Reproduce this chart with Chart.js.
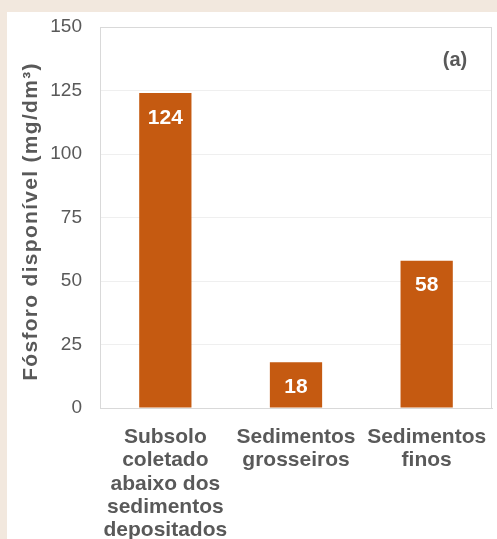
<!DOCTYPE html>
<html lang="pt">
<head>
<meta charset="utf-8">
<title>Fósforo disponível</title>
<script src="https://cdn.jsdelivr.net/npm/chart.js@4/dist/chart.umd.min.js"></script>
<style>
  html, body { margin: 0; padding: 0; width: 497px; height: 539px; overflow: hidden; background: #f2e8de; }
  #panel { position: absolute; left: 7px; top: 12px; width: 490px; height: 527px; background: #ffffff; }
  canvas { display: block; }
</style>
</head>
<body>
<div id="panel"><canvas id="chart" width="490" height="527"></canvas></div>
<script>
// Sample groups (multi-line category labels)
const categories = [
  ['Subsolo', 'coletado', 'abaixo dos', 'sedimentos', 'depositados'],
  ['Sedimentos', 'grosseiros'],
  ['Sedimentos', 'finos']
];
// Available phosphorus, mg/dm³
const phosphorus = [124, 18, 58];
// Y axis ticks
const yTickValues = [0, 25, 50, 75, 100, 125, 150];
const axisTitle = 'Fósforo disponível (mg/dm³)';
const panelTag = '(a)';

const FONT = '"Liberation Sans", Arial, Helvetica, sans-serif';
const TEXT_GREY = '#595959';
const BAR_COLOR = '#c55a11';
const GRID_COLOR = '#efefef';
const FRAME_COLOR = '#d9d9d9';

// Plot frame, value labels inside the bars and the panel tag
const chartDecor = {
  id: 'chartDecor',
  afterLayout(chart) {
    const y = chart.scales.y;
    if (y && !y._spacedTitle) {
      const drawTitle = y.drawTitle.bind(y);
      y.drawTitle = function () {
        const ctx = this.ctx;
        ctx.save();
        ctx.letterSpacing = '1.3px';
        ctx.translate(0, 4);
        drawTitle();
        ctx.restore();
      };
      y._spacedTitle = true;
    }
  },
  beforeDatasetsDraw(chart) {
    const { ctx, chartArea: a } = chart;
    ctx.save();
    ctx.strokeStyle = FRAME_COLOR;
    ctx.lineWidth = 1;
    ctx.beginPath();
    const r = Math.round(a.right) - 0.5;
    const t = Math.round(a.top) + 0.5;
    ctx.moveTo(Math.round(a.left), t);
    ctx.lineTo(r, t);
    ctx.lineTo(r, Math.round(a.bottom));
    ctx.stroke();
    ctx.restore();
  },
  afterDatasetsDraw(chart) {
    const { ctx, chartArea: a } = chart;
    const meta = chart.getDatasetMeta(0);
    ctx.save();
    ctx.fillStyle = '#ffffff';
    ctx.font = 'bold 21px ' + FONT;
    ctx.textAlign = 'center';
    ctx.textBaseline = 'middle';
    meta.data.forEach((bar, i) => {
      ctx.fillText(String(chart.data.datasets[0].data[i]), bar.x, bar.y + 25);
    });
    ctx.fillStyle = TEXT_GREY;
    ctx.font = 'bold 20px ' + FONT;
    ctx.fillText(panelTag, a.right - 37, a.top + 33);
    ctx.restore();
  }
};

new Chart(document.getElementById('chart'), {
  type: 'bar',
  data: {
    labels: categories,
    datasets: [{
      data: phosphorus,
      backgroundColor: BAR_COLOR,
      borderWidth: 0,
      barPercentage: 0.4,
      categoryPercentage: 1.0
    }]
  },
  options: {
    responsive: false,
    animation: false,
    devicePixelRatio: 1,
    layout: { padding: { top: 15, right: 5, left: 0, bottom: 0 } },
    plugins: {
      legend: { display: false },
      tooltip: { enabled: false }
    },
    scales: {
      x: {
        offset: true,
        grid: {
          display: true,
          drawOnChartArea: false,
          drawTicks: true,
          tickLength: 18,
          tickColor: 'rgba(0,0,0,0)',
          color: 'rgba(0,0,0,0)'
        },
        border: { display: true, color: FRAME_COLOR, width: 1 },
        ticks: {
          color: TEXT_GREY,
          padding: 0,
          maxRotation: 0,
          autoSkip: false,
          font: { family: FONT, size: 21, weight: 'bold', lineHeight: 1.1 }
        },
        afterFit(scale) { scale.height = 131; }
      },
      y: {
        min: 0,
        max: 150,
        afterBuildTicks(scale) { scale.ticks = yTickValues.map(v => ({ value: v })); },
        grid: {
          color: (c) => (c.tick && c.tick.value === 150) ? FRAME_COLOR : GRID_COLOR,
          drawTicks: true,
          tickLength: 18,
          tickColor: 'rgba(0,0,0,0)',
          lineWidth: 1
        },
        border: { display: true, color: FRAME_COLOR, width: 1 },
        ticks: {
          color: TEXT_GREY,
          padding: 0,
          font: { family: FONT, size: 19 }
        },
        title: {
          display: true,
          text: axisTitle,
          color: TEXT_GREY,
          padding: { top: 12, bottom: 0 },
          font: { family: FONT, size: 21, weight: 'bold', lineHeight: 1.2 }
        },
        afterFit(scale) { scale.width = 93; }
      }
    }
  },
  plugins: [chartDecor]
});
</script>
</body>
</html>
